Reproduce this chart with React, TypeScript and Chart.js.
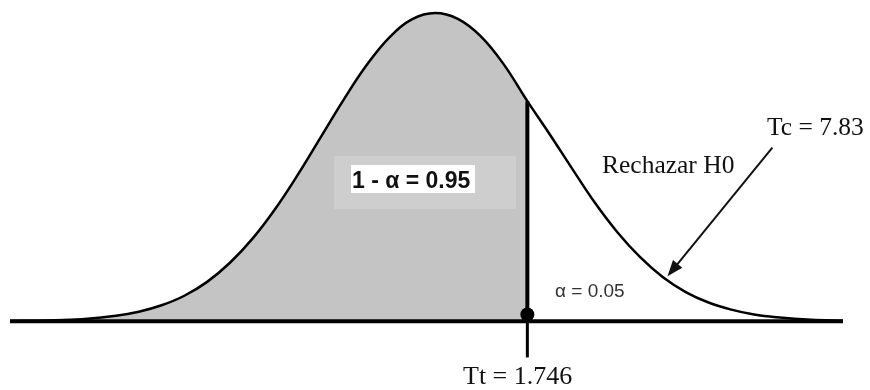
import React, { useEffect, useRef } from "react";
import { Chart, registerables } from "chart.js";

Chart.register(...registerables);

// Curve: horizontal position (standard units) and height (fraction of peak)
const curveX = [-3.73, -3.4, -3.1, -2.8, -2.6, -2.4, -2.2, -2.0, -1.8, -1.6, -1.4, -1.2, -1.0, -0.8, -0.6, -0.4, -0.2, 0, 0.2, 0.4, 0.6, 0.81, 1.0, 1.2, 1.4, 1.6, 1.8, 2.0, 2.2, 2.4, 2.6, 2.8, 3.0, 3.3, 3.58];
const curveY = [0.001, 0.003, 0.007, 0.018, 0.031, 0.052, 0.083, 0.128, 0.19, 0.269, 0.366, 0.478, 0.599, 0.72, 0.831, 0.921, 0.98, 1.0, 0.981, 0.925, 0.835, 0.714, 0.61, 0.497, 0.386, 0.289, 0.208, 0.143, 0.095, 0.061, 0.038, 0.022, 0.013, 0.005, 0.002];

const xMin = -3.73;
const xMax = 3.58;
const ttPos = 0.81; // position of Tt on the axis
const ttHeight = 0.714;
const tickDrop = -0.117;
const arrowFrom = [2.96, 0.563];
const arrowTo = [2.04, 0.146];

const labelTt = "Tt = 1.746";
const labelTc = "Tc = 7.83";
const labelReject = "Rechazar H0";
const labelAlpha = "α = 0.05";
const labelConf = "1 - α = 0.95";

export default function App() {
  const ref = useRef<HTMLCanvasElement | null>(null);

  useEffect(() => {
    if (!ref.current) return;
    const curve = curveX.map((x, i) => ({ x, y: curveY[i] }));
    const shaded = curve.filter((p) => p.x <= ttPos);

    const annotations = {
      id: "annotations",
      afterDatasetsDraw(chart: any) {
        const ctx = chart.ctx;
        const xs = chart.scales.x;
        const ys = chart.scales.y;
        ctx.save();
        // label box
        ctx.fillStyle = "#cfcecf";
        ctx.fillRect(334, 156, 182, 53);
        ctx.fillStyle = "#ffffff";
        ctx.fillRect(351, 165, 124, 28);
        ctx.fillStyle = "#111111";
        ctx.font = "bold 23px 'Liberation Sans', Arial, sans-serif";
        ctx.textBaseline = "alphabetic";
        ctx.textAlign = "left";
        ctx.fillText(labelConf, 352, 188);

        ctx.fillStyle = "#333333";
        ctx.font = "19px 'Liberation Sans', Arial, sans-serif";
        ctx.fillText(labelAlpha, 555, 297);

        ctx.fillStyle = "#111111";
        ctx.font = "25.5px 'Liberation Serif', 'Times New Roman', serif";
        ctx.fillText(labelReject, 602, 173);
        ctx.fillText(labelTc, 767, 135);
        ctx.font = "26px 'Liberation Serif', 'Times New Roman', serif";
        ctx.fillText(labelTt, 463, 384);

        // arrow
        const x1 = xs.getPixelForValue(arrowFrom[0]);
        const y1 = ys.getPixelForValue(arrowFrom[1]);
        const x2 = xs.getPixelForValue(arrowTo[0]);
        const y2 = ys.getPixelForValue(arrowTo[1]);
        const ang = Math.atan2(y2 - y1, x2 - x1);
        const hl = 16;
        const hw = 6;
        ctx.strokeStyle = "#111111";
        ctx.lineWidth = 2;
        ctx.beginPath();
        ctx.moveTo(x1, y1);
        ctx.lineTo(x2 - Math.cos(ang) * hl * 0.8, y2 - Math.sin(ang) * hl * 0.8);
        ctx.stroke();
        ctx.beginPath();
        ctx.moveTo(x2, y2);
        ctx.lineTo(x2 - Math.cos(ang) * hl - Math.sin(ang) * hw, y2 - Math.sin(ang) * hl + Math.cos(ang) * hw);
        ctx.lineTo(x2 - Math.cos(ang) * hl + Math.sin(ang) * hw, y2 - Math.sin(ang) * hl - Math.cos(ang) * hw);
        ctx.closePath();
        ctx.fillStyle = "#111111";
        ctx.fill();
        ctx.restore();
      },
    };

    const chart = new Chart(ref.current, {
      type: "line",
      data: {
        datasets: [
          {
            data: [{ x: ttPos, y: 0.022 }],
            showLine: false,
            pointRadius: 7,
            pointBackgroundColor: "#000000",
            pointBorderWidth: 0,
            clip: false,
          } as any,
          {
            data: [{ x: ttPos, y: 0 }, { x: ttPos, y: ttHeight }],
            borderColor: "#000000",
            borderWidth: 4,
            pointRadius: 0,
            clip: false,
          },
          {
            data: [{ x: ttPos, y: tickDrop }, { x: ttPos, y: 0 }],
            borderColor: "#000000",
            borderWidth: 3,
            pointRadius: 0,
            clip: false,
          },
          {
            data: [{ x: xMin, y: 0 }, { x: xMax, y: 0 }],
            borderColor: "#000000",
            borderWidth: 4,
            pointRadius: 0,
            clip: false,
          },
          {
            data: curve,
            borderColor: "#000000",
            borderWidth: 2.5,
            pointRadius: 0,
            tension: 0.4,
            fill: false,
            clip: false,
          },
          {
            data: shaded,
            borderWidth: 0,
            borderColor: "rgba(0,0,0,0)",
            backgroundColor: "#c4c4c4",
            pointRadius: 0,
            tension: 0.4,
            fill: "origin",
            clip: false,
          },
        ],
      },
      options: {
        animation: false,
        responsive: false,
        events: [],
        layout: { padding: { left: 10, right: 27, top: 13, bottom: 6.2 } },
        plugins: { legend: { display: false }, tooltip: { enabled: false } },
        scales: {
          x: { type: "linear", min: xMin, max: xMax, display: false },
          y: { type: "linear", min: -0.2, max: 1, display: false },
        },
      },
      plugins: [annotations],
    });
    return () => chart.destroy();
  }, []);

  return (
    <div style={{ position: "absolute", left: 0, top: 0, width: 870, height: 390, background: "#ffffff" }}>
      <canvas ref={ref} width={870} height={390} />
    </div>
  );
}
